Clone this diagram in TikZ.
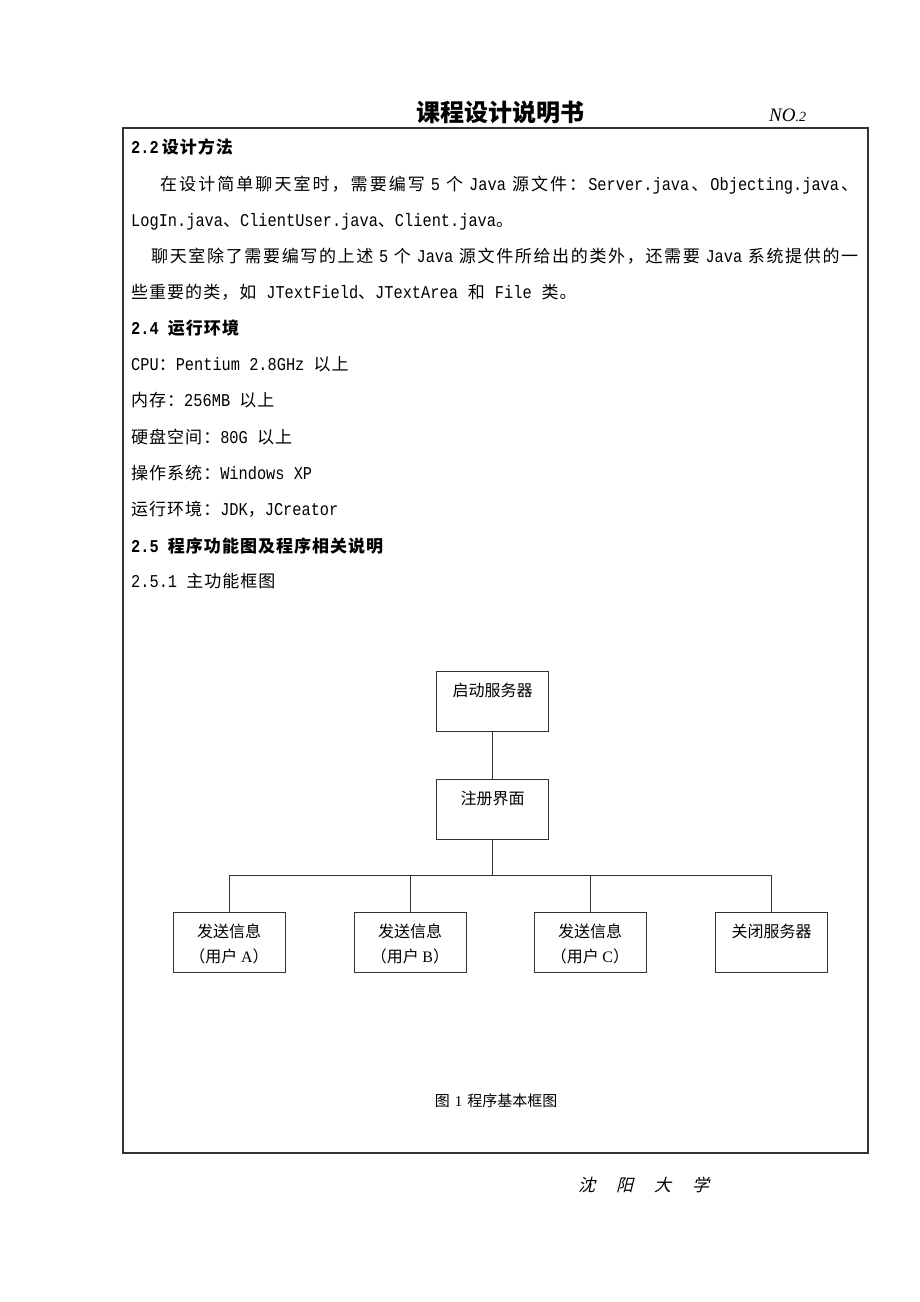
\documentclass[tikz,border=0pt]{standalone}
\usepackage{fontspec}
\setmainfont{Noto Sans CJK SC}[LetterSpace=6]
\newfontfamily\boxfont{Noto Sans CJK SC}
\newfontfamily\slantfont{Noto Sans CJK SC}[FakeSlant=0.25]
\newfontfamily\mono{Liberation Mono}[FakeStretch=0.85, Scale=1.06]
\newfontfamily\tms{Liberation Serif}
\usetikzlibrary{positioning}
\makeatletter
\def\spr#1{\spr@#1\relax}
\def\spr@#1{\ifx#1\relax\else#1\hfil\expandafter\spr@\fi}
\makeatother
\newcommand\boxtext[1]{\parbox[c][60pt][t]{110pt}{\centering\rule{0pt}{25pt}#1}}
\tikzset{
  txt/.style={anchor=base west, inner sep=0pt, font=\fontsize{17}{17}\selectfont},
  box/.style={draw=black!80, line width=1pt, minimum width=112pt, minimum height=60pt,
    inner sep=0pt, font=\boxfont\fontsize{16}{25}\selectfont},
  conn/.style={draw=black!80, line width=1pt}
}

\begin{document}
\begin{tikzpicture}[x=1pt,y=-1pt]
\useasboundingbox (0,0) rectangle (920,1302);
\draw[black!80, line width=1.3pt] (123,128) rectangle (868,1153);
\node[anchor=base] (title) at (500,121) {\boxfont\fontsize{24}{24}\selectfont\bfseries 课程设计说明书};
\node[anchor=base west, inner sep=0pt] (pageno) at (769,121) {\tms\itshape\fontsize{19}{19}\selectfont NO\fontsize{14}{14}\selectfont.2};

% text of the page
\node[txt] (h22) at (131,153) {{\mono\bfseries 2.2}\hspace{3pt}\bfseries 设计方法};
\node[txt] (p1a) at (160,190) {\hbox to 698pt{\spr{在设计简单聊天室时，需要编写}\hspace{4pt}{\mono 5}\hspace{4pt}\hfil\spr{个}\hspace{4pt}{\mono Java}\hspace{4pt}\hfil\spr{源文件：}{\mono Server.java}\hfil\spr{、}{\mono Objecting.java}\hfil 、}};
\node[txt] (p1b) at (131,226) {{\mono LogIn.java}、{\mono ClientUser.java}、{\mono Client.java}。};
\node[txt] (p2a) at (151,262) {\hbox to 707pt{\spr{聊天室除了需要编写的上述}\hspace{4pt}{\mono 5}\hspace{4pt}\hfil\spr{个}\hspace{4pt}{\mono Java}\hspace{4pt}\hfil\spr{源文件所给出的类外，还需要}\hspace{4pt}{\mono Java}\hspace{4pt}\hfil\spr{系统提供的}一}};
\node[txt] (p2b) at (131,298) {些重要的类，如\hspace{10pt}{\mono JTextField}、{\mono JTextArea}\hspace{10pt}和\hspace{10pt}{\mono File}\hspace{10pt}类。};
\node[txt] (h24) at (131,334) {{\mono\bfseries 2.4 }\bfseries 运行环境};
\node[txt] (cpu) at (131,370) {{\mono CPU}：{\mono Pentium 2.8GHz }以上};
\node[txt] (mem) at (131,406) {内存：{\mono 256MB }以上};
\node[txt] (disk) at (131,443) {硬盘空间：{\mono 80G }以上};
\node[txt] (os) at (131,479) {操作系统：{\mono Windows XP}};
\node[txt] (env) at (131,515) {运行环境：{\mono JDK}，{\mono JCreator}};
\node[txt] (h25) at (131,552) {{\mono\bfseries 2.5 }\bfseries 程序功能图及程序相关说明};
\node[txt] (h251) at (131,587) {{\mono 2.5.1 }主功能框图};

% block diagram
\node[box] (start) at (492.5,701) {\boxtext{启动服务器}};
\node[box] (reg) at (492.5,809.5) {\boxtext{注册界面}};
\node[box] (sendA) at (229,942) {\boxtext{发送信息\\（用户 {\tms A}）}};
\node[box] (sendB) at (410,942) {\boxtext{发送信息\\（用户 {\tms B}）}};
\node[box] (sendC) at (590,942) {\boxtext{发送信息\\（用户 {\tms C}）}};
\node[box] (close) at (771.5,942) {\boxtext{关闭服务器}};
\coordinate (bus) at (492.5,875.5);
\draw[conn] (start) -- (reg);
\draw[conn] (reg) -- (bus);
\draw[conn] (sendA.north) |- (bus) -| (close.north);
\draw[conn] (sendB.north) -- (sendB.north |- bus);
\draw[conn] (sendC.north) -- (sendC.north |- bus);

\node[anchor=base] (cap) at (496,1106) {\boxfont\fontsize{15}{15}\selectfont 图\hspace{5pt}{\tms 1}\hspace{5pt}程序基本框图};
\node[anchor=base west, inner sep=0pt] (school) at (578,1191) {\slantfont\fontsize{17}{17}\selectfont 沈\hspace{21pt}阳\hspace{21pt}大\hspace{21pt}学};
\end{tikzpicture}
\end{document}
